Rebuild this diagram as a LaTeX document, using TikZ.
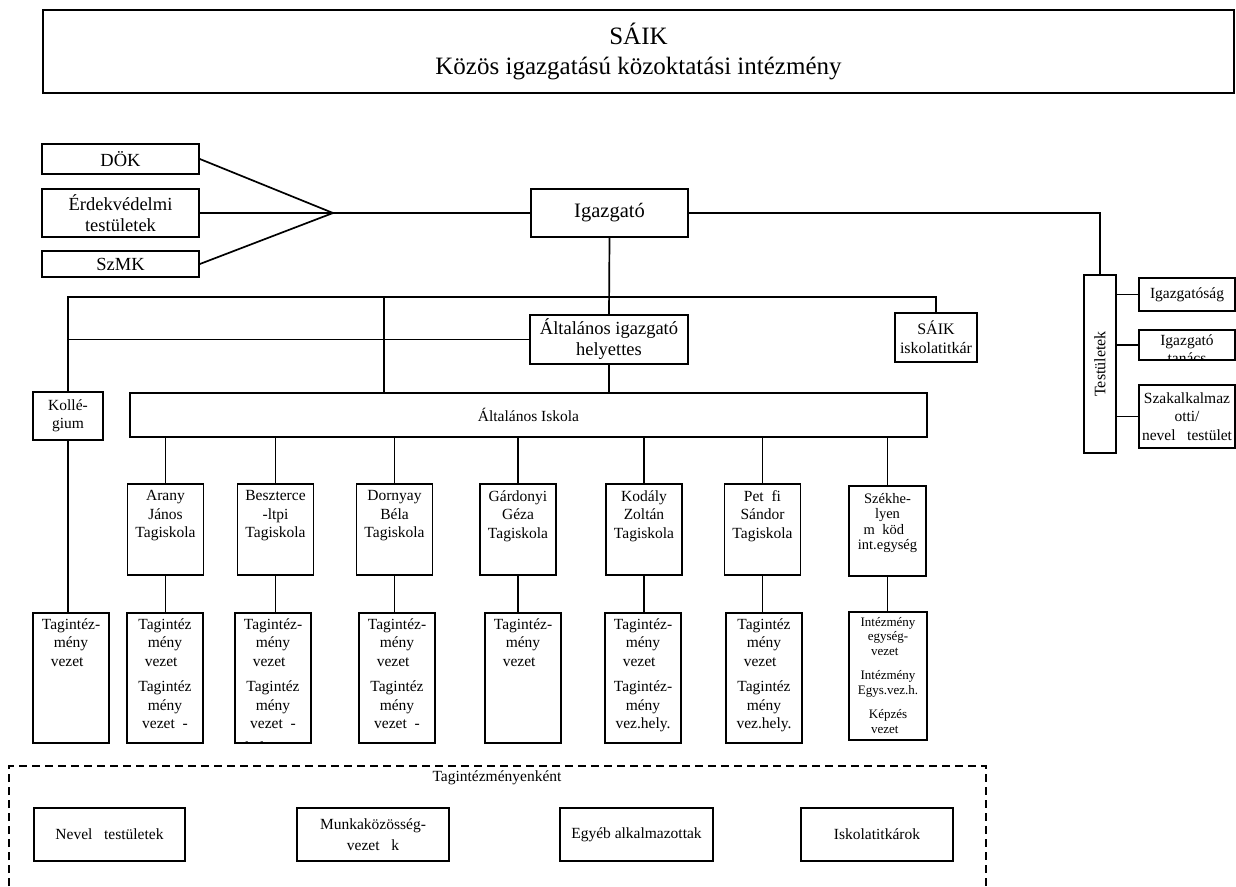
\documentclass[tikz,border=0pt]{standalone}
\usepackage{fontspec}
\setmainfont{Liberation Serif}
\usetikzlibrary{positioning}

\begin{document}
\begin{tikzpicture}[x=1pt, y=-1pt,
    box/.style={draw, line width=1.7pt, inner sep=0pt, align=center,
      font=\fontsize{15.5}{18.5}\selectfont},
    bigbox/.style={box, font=\fontsize{18.5}{21}\selectfont},
    txt/.style={inner sep=0pt, align=center, font=\fontsize{15.5}{18.5}\selectfont},
    link/.style={line width=1.7pt}]
  \useasboundingbox (0,0) rectangle (1236,886);
  % fejlec
  \node[box, line width=1.9pt, minimum width=1191pt, minimum height=83pt,
        font=\fontsize{25}{30}\selectfont] (saik) at (638.5,51.5)
        {SÁIK\\Közös igazgatású közoktatási intézmény};
  % bal oldali testuletek
  \node[bigbox, minimum width=157pt, minimum height=30pt] (dok) at (120.5,159) {DÖK};
  \node[bigbox, minimum width=157pt, minimum height=48pt] (erdek) at (120.5,213) {Érdekvédelmi\\testületek};
  \node[bigbox, minimum width=157pt, minimum height=26pt] (szmk) at (120.5,264) {SzMK};
  \coordinate (gyujto) at (333,213);
  \node[box, minimum width=157pt, minimum height=48pt,
        font=\fontsize{20.5}{24}\selectfont] (igazgato) at (609.5,213) {Igazgató};
  \draw[link] (dok.east) -- (gyujto);
  \draw[link] (erdek.east) -- (gyujto);
  \draw[link] (szmk.east) -- (gyujto);
  \draw[link] (gyujto) -- (igazgato.west);
  % jobb oldal
  \node[box, minimum width=32pt, minimum height=178pt] (testuletek) at (1100,364) {};
  \node[txt, rotate=90, font=\fontsize{16}{18}\selectfont] (testtxt) at (testuletek) {Testületek};
  \node[box, minimum width=96pt, minimum height=33pt] (igsag) at (1187,294.5) {Igazgatóság};
  \node[box, minimum width=96pt, minimum height=30pt] (tanacs) at (1187,345) {};
  \begin{scope}
    \clip (tanacs.south west) rectangle (tanacs.north east);
    \node[txt, below=5pt of tanacs.north] (tanacstxt) {Igazgató\\tanács};
  \end{scope}
  \node[box, minimum width=96pt, minimum height=63pt] (szak) at (1187,416.5)
        {Szakalkalmaz\\otti/\\nevel\phantom{ő} testület};
  \draw[link] (igazgato.east) -| (testuletek.north);
  \draw[link] (igsag.west) -- (igsag.west -| testuletek.east);
  \draw[link] (tanacs.west) -- (tanacs.west -| testuletek.east);
  \draw[link] (szak.west) -- (szak.west -| testuletek.east);
  % kozepso szint
  \node[bigbox, minimum width=158pt, minimum height=49pt] (helyettes) at (609,339.5)
        {Általános igazgató\\helyettes};
  \node[box, minimum width=82pt, minimum height=49pt,
        font=\fontsize{16}{19}\selectfont] (titkar) at (936,337.5) {SÁIK\\iskolatitkár};
  \node[box, minimum width=70pt, minimum height=48pt] (kollegium) at (68,416) {Kollé-\\gium};
  \node[box, minimum width=797pt, minimum height=44pt] (iskola) at (528.5,415)
        {\raisebox{-4pt}{Általános Iskola}};
  \coordinate (elag) at (384,297);
  \draw[link] (kollegium.north) |- (elag) -| (titkar.north);
  \draw[link] (elag) -- (elag |- iskola.north);
  \draw[link] (kollegium.north |- helyettes.west) -- (helyettes.west);
  \draw[link] (igazgato.south) -- (helyettes.north);
  \draw[link] (helyettes.south) -- (helyettes.south |- iskola.north);
  % kollegium vezeto
  \node[box, minimum width=76pt, minimum height=130pt] (kollegiumlo) at (71,678) {};
  \node[txt, below=6pt of kollegiumlo.north] (kollegiumlotxt) {Tagintéz-\\mény\\vezet\phantom{ő}};
  \draw[link] (kollegium.south) -- (kollegium.south |- kollegiumlo.north);
  % tagiskolak
  \foreach \nm/\x/\lx/\felso/\also in {
      arany/165.5/165/{Arany\\János\\Tagiskola}/{Tagintéz\\mény\\vezet\phantom{ő}\\[7pt]Tagintéz\\mény\\vezet\phantom{ő}-},
      beszt/275.5/273/{Beszterce\\-ltpi\\Tagiskola}/{Tagintéz-\\mény\\vezet\phantom{ő}\\[7pt]Tagintéz\\mény\\vezet\phantom{ő}-\\[5pt]helyettes},
      dorny/394.5/397/{Dornyay\\Béla\\Tagiskola}/{Tagintéz-\\mény\\vezet\phantom{ő}\\[7pt]Tagintéz\\mény\\vezet\phantom{ő}-},
      gard/518/523/{Gárdonyi\\Géza\\Tagiskola}/{Tagintéz-\\mény\\vezet\phantom{ő}},
      kod/644/643/{Kodály\\Zoltán\\Tagiskola}/{Tagintéz-\\mény\\vezet\phantom{ő}\\[7pt]Tagintéz-\\mény\\vez.hely.},
      pet/762.5/764/{Pet\phantom{ő}fi\\Sándor\\Tagiskola}/{Tagintéz\\mény\\vezet\phantom{ő}\\[7pt]Tagintéz\\mény\\vez.hely.}}
  {
    \node[box, minimum width=76pt, minimum height=91pt] (\nm) at (\x,529.5) {};
    \node[txt, below=7pt of \nm.north] (\nm txt) {\felso};
    \node[box, minimum width=76pt, minimum height=130pt] (\nm lo) at (\lx,678) {};
    \begin{scope}
      \clip (\nm lo.south west) rectangle (\nm lo.north east);
      \node[txt, below=6pt of \nm lo.north] (\nm lotxt) {\also};
    \end{scope}
    \draw[link] (iskola.south -| \nm.north) -- (\nm.north);
    \draw[link] (\nm.south) -- (\nm.south |- \nm lo.north);
  }
  % szekhely
  \node[box, minimum width=77pt, minimum height=90pt] (szekhely) at (887.5,531) {};
  \node[txt, font=\fontsize{14.5}{15.5}\selectfont, below=8pt of szekhely.north] (szekhelytxt)
        {Székhe-\\lyen\\m\phantom{ű}köd\phantom{ő}\\int.egység};
  \node[box, minimum width=78pt, minimum height=128pt] (szekhelylo) at (888,676) {};
  \node[txt, font=\fontsize{13}{14.5}\selectfont, below=6pt of szekhelylo.north] (szekhelylotxt)
        {Intézmény\\egység-\\vezet\phantom{ő}\\[10pt]Intézmény\\Egys.vez.h.\\[10pt]Képzés\\vezet\phantom{ő}};
  \draw[link] (iskola.south -| szekhely.north) -- (szekhely.north);
  \draw[link] (szekhely.south) -- (szekhely.south |- szekhelylo.north);
  % tagintezmenyenkent
  \draw[line width=1.3pt, dash pattern=on 8pt off 5pt] (9,886) -- (9,766) -- (986,766) -- (986,886);
  \node[txt] (tagonkent) at (497,778) {Tagintézményenként};
  \node[box, line width=1.4pt, minimum width=151pt, minimum height=53pt] (nevelo) at (109.5,834.5) {Nevel\phantom{ő} testületek};
  \node[box, line width=1.4pt, minimum width=152pt, minimum height=53pt,
        font=\fontsize{15.5}{21}\selectfont] (munka) at (373,834.5) {Munkaközösség-\\vezet\phantom{ő} k};
  \node[box, line width=1.4pt, minimum width=153pt, minimum height=53pt] (egyeb) at (636.5,834.5) {Egyéb alkalmazottak};
  \node[box, line width=1.4pt, minimum width=152pt, minimum height=53pt] (titkarok) at (877,834.5) {Iskolatitkárok};
\end{tikzpicture}
\end{document}
